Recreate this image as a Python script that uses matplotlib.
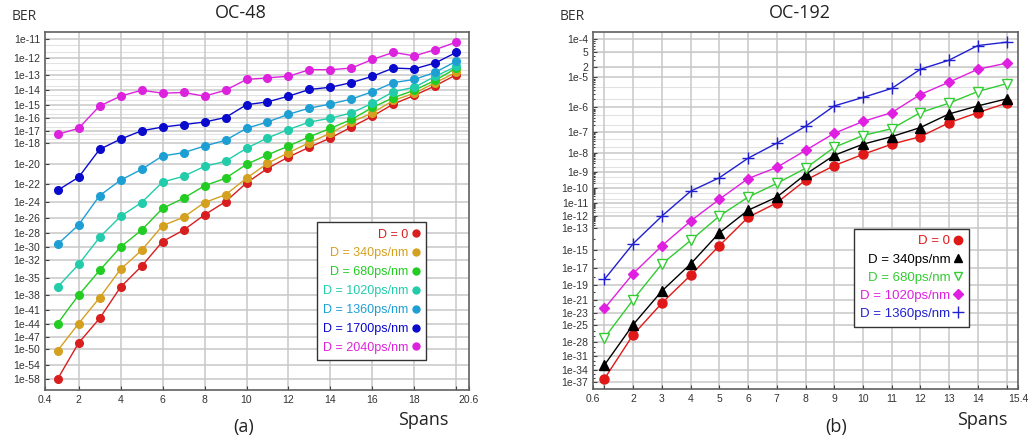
import math
import numpy as np
import matplotlib
matplotlib.use("Agg")
from matplotlib import pyplot as plt
from matplotlib.lines import Line2D

# ---- data: log10(BER) ----
spans_a = list(range(1, 21))
labels_a = ["D = 0", "D = 340ps/nm", "D = 680ps/nm", "D = 1020ps/nm",
            "D = 1360ps/nm", "D = 1700ps/nm", "D = 2040ps/nm"]
colors_a = ["#d81e1e", "#d4a020", "#22cc22", "#22ccaa", "#1e9fd4", "#0a0acc", "#dd22dd"]
ber_d0 = [-58.0, -48.4, -42.8, -36.6, -33.0, -29.2, -27.6, -25.6, -24.0, -21.9,
          -20.4, -19.3, -18.4, -17.6, -16.7, -15.85, -14.95, -14.35, -13.7, -13.0]
ber_d340 = [-50.3, -43.9, -38.6, -33.5, -30.5, -27.0, -25.9, -24.1, -23.2, -21.4,
            -19.9, -18.9, -18.0, -17.2, -16.3, -15.6, -14.7, -14.2, -13.5, -12.85]
ber_d680 = [-43.9, -38.1, -33.7, -30.0, -27.6, -24.8, -23.6, -22.2, -21.4, -20.0,
            -19.1, -18.3, -17.5, -16.8, -16.1, -15.2, -14.5, -14.0, -13.35, -12.6]
ber_d1020 = [-36.6, -32.7, -28.6, -25.8, -24.1, -21.8, -21.2, -20.2, -19.7, -18.5,
             -17.6, -16.9, -16.3, -16.0, -15.6, -14.9, -14.1, -13.8, -13.1, -12.5]
ber_d1360 = [-29.6, -26.9, -23.3, -21.6, -20.5, -19.2, -18.9, -18.3, -17.8, -16.8,
             -16.3, -15.7, -15.25, -14.95, -14.6, -14.1, -13.5, -13.3, -12.85, -12.2]
ber_d1700 = [-22.7, -21.3, -18.6, -17.7, -17.0, -16.7, -16.5, -16.3, -15.95, -15.0,
             -14.8, -14.4, -13.95, -13.8, -13.5, -13.1, -12.6, -12.65, -12.3, -11.7]
ber_d2040 = [-17.3, -16.8, -15.1, -14.4, -14.0, -14.2, -14.15, -14.4, -14.0, -13.3,
             -13.2, -13.1, -12.7, -12.7, -12.6, -12.1, -11.7, -11.9, -11.55, -11.15]
series_a = [ber_d0, ber_d340, ber_d680, ber_d1020, ber_d1360, ber_d1700, ber_d2040]

spans_b = list(range(1, 16))
labels_b = ["D = 0", "D = 340ps/nm", "D = 680ps/nm", "D = 1020ps/nm", "D = 1360ps/nm"]
colors_b = ["#e01818", "#000000", "#33cc33", "#e020e0", "#2020d0"]
markers_b = ["o", "^", "v", "D", "+"]
b_d0 = [-36.2, -26.7, -21.5, -17.8, -14.6, -12.1, -11.0, -9.5, -8.65, -8.05,
        -7.55, -7.2, -6.6, -6.2, -5.85]
b_d340 = [-32.9, -24.9, -19.8, -16.5, -13.4, -11.55, -10.6, -9.15, -8.1, -7.55,
          -7.2, -6.8, -6.25, -5.95, -5.7]
b_d680 = [-27.3, -21.0, -16.5, -14.1, -12.0, -10.6, -9.7, -8.8, -7.7, -7.15,
          -6.85, -6.2, -5.85, -5.45, -5.2]
b_d1020 = [-22.3, -17.6, -14.6, -12.4, -10.75, -9.4, -8.75, -7.85, -7.05, -6.55,
           -6.2, -5.55, -5.15, -4.77, -4.6]
b_d1360 = [-18.3, -14.4, -12.0, -10.2, -9.35, -8.25, -7.5, -6.75, -5.95, -5.65,
           -5.35, -4.77, -4.52, -4.15, -4.07]
series_b = [b_d0, b_d340, b_d680, b_d1020, b_d1360]

yticks_a = [11, 12, 13, 14, 15, 16, 17, 18, 20, 22, 24, 26, 28, 30, 32, 35, 38,
            41, 44, 47, 50, 54, 58]
yticks_b = [4, 5, 6, 7, 8, 9, 10, 11, 12, 13, 15, 17, 19, 21, 23, 25, 28, 31, 34, 37]

# ---- Q-factor scale (position ~ log Q) ----
SQ2 = math.sqrt(2.0)
_erfc = np.vectorize(math.erfc, otypes=[float])


def ber_to_q(b):
    b = np.clip(np.asarray(b, dtype=float), 1e-300, 0.49)
    lo = np.zeros_like(b)
    hi = np.full_like(b, 40.0)
    for _ in range(50):
        mid = 0.5 * (lo + hi)
        big = 0.5 * _erfc(mid / SQ2) > b
        lo = np.where(big, mid, lo)
        hi = np.where(big, hi, mid)
    return 0.5 * (lo + hi)


def fwd(b):
    return -np.log10(ber_to_q(b))


def inv(y):
    return 0.5 * _erfc(10.0 ** (-np.asarray(y, dtype=float)) / SQ2)


bigfont = ["Open Sans", "DejaVu Sans"]
grid_c = "#c8c8c8"
minor_c = "#e2e2e2"


def style_axes(ax):
    for s in ax.spines.values():
        s.set_color("#606060")
        s.set_linewidth(1.2)
    ax.tick_params(which="both", direction="in", length=3, width=0.8,
                   colors="#404040", labelcolor="#333333", labelsize=7.5,
                   labelfontfamily="Liberation Sans")
    ax.tick_params(which="minor", length=1.5)
    ax.grid(True, which="major", color=grid_c, lw=1.1)
    ax.set_axisbelow(True)


fig = plt.figure(figsize=(10.29, 4.42), dpi=100)

# ---------------- (a) OC-48 ----------------
ax1 = fig.add_axes([45 / 1029, 52 / 442, 424 / 1029, 358 / 442])
ax1.set_yscale("function", functions=(fwd, inv))
for ys, c in zip(series_a, colors_a):
    ax1.plot(spans_a, 10.0 ** np.array(ys), color=c, lw=1.0, marker="o", ms=5.5,
             mec=c, mfc=c)
ax1.set_xlim(0.4, 20.6)
xt_a = [0.4] + list(range(2, 21, 2)) + [20.6]
ax1.set_xticks(xt_a, ["0.4"] + [str(v) for v in range(2, 19, 2)] + ["", "20.6"])
ax1.set_yticks([10.0 ** -k for k in yticks_a], ["1e-%d" % k for k in yticks_a])
ax1.set_yticks([], minor=True)
ax1.set_ylim(5e-62, 2.3e-11)
style_axes(ax1)
for v in [m * 10.0 ** -k for k in range(12, 19) for m in (2, 5)]:
    ax1.axhline(v, color=minor_c, lw=0.8, zorder=0)
ax1.xaxis.get_gridlines()[0].set_visible(False)
ax1.xaxis.get_gridlines()[-1].set_visible(False)

h_a = [Line2D([], [], ls="none", marker="o", ms=5, color=c) for c in colors_a]
leg = ax1.legend(h_a, labels_a, loc="upper right", bbox_to_anchor=(0.913, 0.486),
                 markerfirst=False, labelcolor=colors_a, handlelength=0.6,
                 handletextpad=0.3, labelspacing=0.55, borderpad=0.5,
                 fancybox=False, framealpha=1, edgecolor="#333333",
                 prop={"family": ["Liberation Sans", "DejaVu Sans"], "size": 9})
leg.get_frame().set_linewidth(1.0)

# ---------------- (b) OC-192 ----------------
ax2 = fig.add_axes([593 / 1029, 53 / 442, 425 / 1029, 357 / 442])
ax2.set_yscale("function", functions=(fwd, inv))
for ys, c, m in zip(series_b, colors_b, markers_b):
    mfc = "white" if m == "v" else c
    ms = {"D": 5.5, "+": 8}.get(m, 6.5)
    ax2.plot(spans_b, 10.0 ** np.array(ys), color=c, lw=1.0, marker=m, ms=ms,
             mec=c, mfc=mfc, mew=1.0)
ax2.set_xlim(0.6, 15.4)
xt_b = [0.6] + list(range(1, 16)) + [15.4]
ax2.set_xticks(xt_b, ["0.6", ""] + [str(v) for v in range(2, 15)] + ["", "15.4"])
yb_pos = [1e-4, 5e-5, 2e-5] + [10.0 ** -k for k in yticks_b[1:]]
yb_lab = ["1e-4", "5", "2"] + ["1e-%d" % k for k in yticks_b[1:]]
ax2.set_yticks(yb_pos, yb_lab)
minor_b = [m * 10.0 ** -k for k in range(5, 14) for m in range(2, 10)
           if not (k == 5 and m in (2, 5))]
minor_b += [10.0 ** -k for k in (14, 16, 18, 20, 22, 24, 26, 27, 29, 30, 32, 33, 35, 36)]
ax2.set_yticks(minor_b, minor=True)
ax2.set_ylim(1.3e-39, 1.45e-4)
style_axes(ax2)
for v in [m * 10.0 ** -k for k in range(5, 13) for m in (2, 5)]:
    ax2.axhline(v, color=minor_c, lw=0.8, zorder=0)
ax2.xaxis.get_gridlines()[0].set_visible(False)
ax2.xaxis.get_gridlines()[-1].set_visible(False)

h_b = [Line2D([], [], ls="none", marker=m, ms={"D": 5, "+": 8}.get(m, 6), color=c,
              mfc=("white" if m == "v" else c), mew=1.0)
       for c, m in zip(colors_b, markers_b)]
leg2 = ax2.legend(h_b, labels_b, loc="upper right", bbox_to_anchor=(0.9, 0.468),
                  markerfirst=False, labelcolor=colors_b, handlelength=0.6,
                  handletextpad=0.3, labelspacing=0.45, borderpad=0.5,
                  fancybox=False, framealpha=1, edgecolor="#333333",
                  prop={"family": ["Liberation Sans", "DejaVu Sans"], "size": 9.5})
leg2.get_frame().set_linewidth(1.0)

# ---------------- texts ----------------
fig.text(241 / 1029, 1 - 13 / 442, "OC-48", ha="center", va="center",
         family=bigfont, size=13, color="#222222")
fig.text(800 / 1029, 1 - 13 / 442, "OC-192", ha="center", va="center",
         family=bigfont, size=13, color="#222222")
fig.text(12 / 1029, 1 - 17 / 442, "BER", ha="left", va="center",
         family=bigfont, size=10, color="#333333")
fig.text(560 / 1029, 1 - 16 / 442, "BER", ha="left", va="center",
         family=bigfont, size=10, color="#333333")
fig.text(423 / 1029, 1 - 420 / 442, "Spans", ha="center", va="center",
         family=bigfont, size=13, color="#222222")
fig.text(982 / 1029, 1 - 420 / 442, "Spans", ha="center", va="center",
         family=bigfont, size=13, color="#222222")
fig.text(244 / 1029, 1 - 427 / 442, "(a)", ha="center", va="center",
         family=bigfont, size=13, color="#222222")
fig.text(836 / 1029, 1 - 427 / 442, "(b)", ha="center", va="center",
         family=bigfont, size=13, color="#222222")

fig.savefig("out.png", dpi=100)
